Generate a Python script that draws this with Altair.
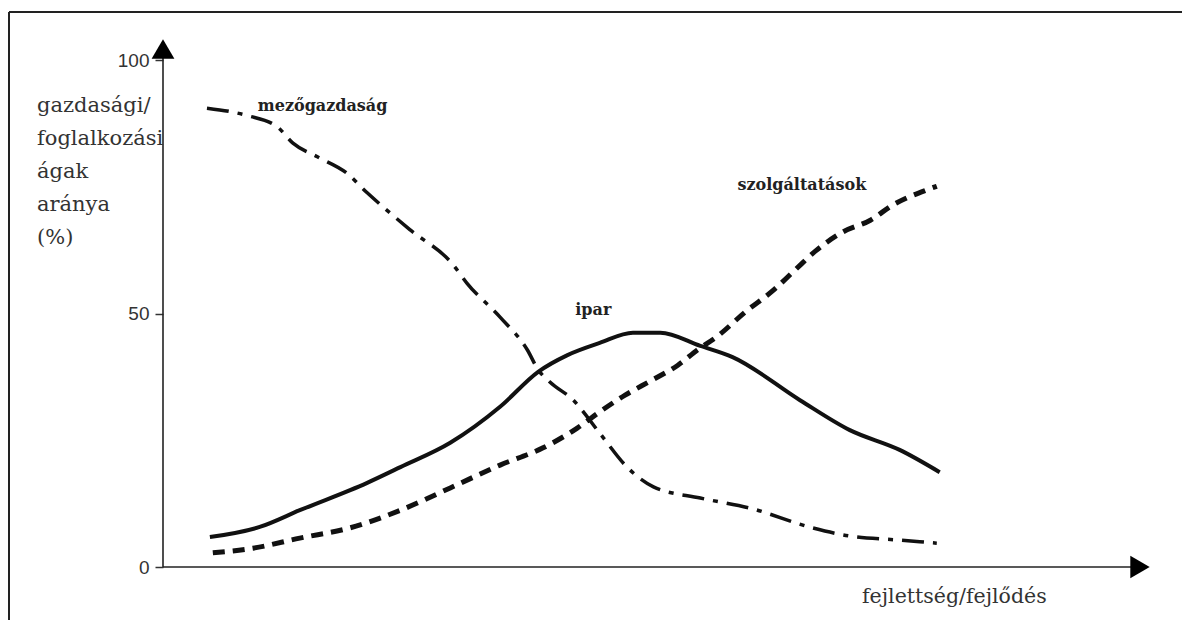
import altair as alt
import pandas as pd

# ---- data (x: arbitrary development scale 0-100, y: share in %) ----
mezo_x = [4.5, 7.2, 8.7, 11.7, 13.3, 15.8, 18.8, 20.9, 22.9, 25.3, 29.7, 31.1, 34.5, 37.3,
          38.4, 39.6, 42.0, 44.7, 47.5, 50.2, 55.0, 60.1, 66.5, 70.3, 75.4, 79.2]
mezo_y = [90.5, 89.7, 89.0, 86.8, 83.6, 80.9, 77.7, 73.8, 70.4, 66.5, 59.6, 56.0, 49.3, 42.8,
          38.9, 36.5, 32.9, 26.4, 19.7, 15.8, 13.6, 11.6, 7.7, 6.1, 5.3, 4.7]

ipar_x = [4.8, 9.9, 14.0, 20.9, 24.3, 29.4, 34.5, 38.4, 41.4, 44.7, 48.1, 50.9, 55.0, 58.3,
          65.2, 70.3, 75.4, 79.5]
ipar_y = [5.9, 7.9, 11.2, 16.6, 19.7, 24.5, 31.6, 38.5, 41.8, 44.2, 46.2, 46.2, 43.6, 41.4,
          32.9, 27.0, 23.1, 18.7]

szolg_x = [5.1, 9.2, 14.0, 19.1, 24.3, 29.4, 34.5, 38.9, 42.4, 44.7, 47.3, 50.1, 52.7, 54.7,
           56.8, 59.6, 62.6, 64.7, 66.9, 69.6, 72.4, 74.7, 78.2, 79.2]
szolg_y = [2.8, 3.7, 5.7, 7.7, 11.2, 15.6, 20.1, 23.5, 27.4, 30.6, 33.9, 36.9, 39.8, 42.8,
           45.6, 50.3, 54.8, 58.6, 62.5, 66.1, 68.4, 71.4, 74.4, 75.1]

y_ticks = [0, 50, 100]

series_labels = ["mezőgazdaság", "ipar", "szolgáltatások"]
label_x = [9.7, 42.2, 58.8]
label_y = [89.9, 49.7, 74.4]

y_title = ["gazdasági/", "foglalkozási", "ágak", "aránya", "(%)"]
x_title = "fejlettség/fejlődés"

W, H = 977, 507

xs = alt.Scale(domain=[0, 100], nice=False, zero=False)
ys = alt.Scale(domain=[0, 100], nice=False, zero=False)

one = pd.DataFrame({"d": [0]})


def series(xv, yv, dash, width):
    df = pd.DataFrame({"x": xv, "y": yv})
    mk = dict(color="#111111", strokeWidth=width, interpolate="monotone", strokeCap="butt")
    if dash:
        mk["strokeDash"] = dash
    return alt.Chart(df).mark_line(**mk).encode(
        x=alt.X("x:Q", scale=xs, axis=None),
        y=alt.Y("y:Q", scale=ys,
                axis=alt.Axis(values=y_ticks, title=None, grid=False, domain=False,
                              tickSize=8, tickColor="#333333", tickWidth=1.5,
                              labelFont="Liberation Sans", labelFontSize=19,
                              labelColor="#333333", labelPadding=6)),
    )


mezo = series(mezo_x, mezo_y, [22, 9, 5, 9], 3.5)
ipar = series(ipar_x, ipar_y, None, 4)
szolg = series(szolg_x, szolg_y, [12, 8], 5)

labels_df = pd.DataFrame({"x": label_x, "y": label_y, "t": series_labels})
labels = alt.Chart(labels_df).mark_text(
    align="left", baseline="alphabetic", font="DejaVu Serif", fontWeight="bold",
    fontSize=16, color="#222222"
).encode(x=alt.X("x:Q", scale=xs), y=alt.Y("y:Q", scale=ys), text="t:N")

# decorations: frame, axis lines with arrow heads, titles
frame_top = alt.Chart(one).mark_rule(color="#222222", strokeWidth=2).encode(
    x=alt.value(-154), x2=alt.value(W + 45), y=alt.value(-48))
frame_left = alt.Chart(one).mark_rule(color="#222222", strokeWidth=2).encode(
    x=alt.value(-154), y=alt.value(-48), y2=alt.value(H + 60))
y_line = alt.Chart(one).mark_rule(color="#222222", strokeWidth=1.6).encode(
    x=alt.value(0), y=alt.value(-10), y2=alt.value(H))
x_line = alt.Chart(one).mark_rule(color="#222222", strokeWidth=1.6).encode(
    x=alt.value(0), x2=alt.value(W - 5), y=alt.value(H))
y_arrow = alt.Chart(one).mark_point(shape="triangle-up", filled=True, size=520,
                                    color="black", opacity=1).encode(
    x=alt.value(0), y=alt.value(-11))
x_arrow = alt.Chart(one).mark_point(shape="triangle-right", filled=True, size=500,
                                    color="black", opacity=1).encode(
    x=alt.value(W), y=alt.value(H))

y_title_mark = alt.Chart(one).mark_text(
    text=y_title, align="left", baseline="alphabetic", lineHeight=33,
    font="DejaVu Serif", fontSize=21, color="#333333"
).encode(x=alt.value(-126), y=alt.value(52))

x_title_mark = alt.Chart(one).mark_text(
    text=x_title, align="left", baseline="alphabetic",
    font="DejaVu Serif", fontSize=20.5, color="#333333"
).encode(x=alt.value(699), y=alt.value(H + 36))

chart = alt.layer(
    frame_top, frame_left, y_line, x_line, y_arrow, x_arrow,
    y_title_mark, x_title_mark, mezo, ipar, szolg, labels
).properties(
    width=W, height=H,
    autosize=alt.AutoSizeParams(type="none"),
    padding={"left": 155, "top": 52, "right": 42, "bottom": 53},
    background="white",
).configure_view(stroke=None)

chart.save("out.html", embed_options={"renderer": "svg", "actions": False})
